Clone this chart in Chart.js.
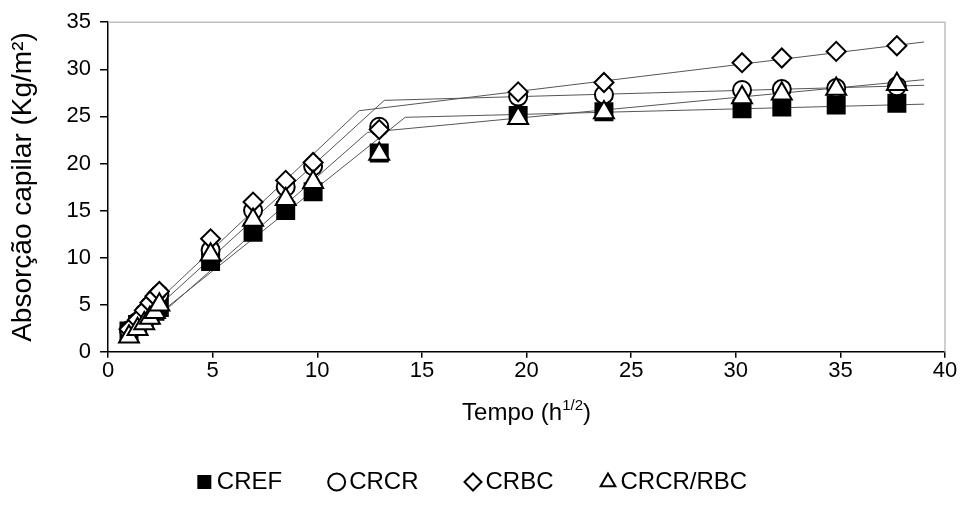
<!DOCTYPE html>
<html>
<head>
<meta charset="utf-8">
<script src="https://cdn.jsdelivr.net/npm/chart.js@4.4.0/dist/chart.umd.min.js"></script>
<style>
html, body { margin: 0; padding: 0; background: #fff; }
</style>
</head>
<body>
<canvas id="myChart" width="963" height="509"></canvas>
<script>
// tempo (h^1/2) and absorcao capilar (Kg/m2)
var tempo = [1, 1.41, 1.73, 2, 2.24, 2.45, 4.9, 6.93, 8.49, 9.8, 12.96, 19.6, 23.7, 30.3, 32.2, 34.8, 37.7];
var cref = [2.2, 2.9, 3.4, 3.9, 4.3, 4.7, 9.6, 12.7, 15.0, 17.0, 21.1, 25.1, 25.5, 25.8, 26.0, 26.2, 26.4];
var crcr = [2.3, 3.2, 4.1, 4.9, 5.6, 6.1, 10.8, 15.0, 17.5, 19.7, 23.9, 27.1, 27.3, 27.8, 27.9, 28.0, 28.2];
var crbc = [2.4, 3.4, 4.4, 5.2, 5.9, 6.4, 12.0, 15.9, 18.2, 20.1, 23.6, 27.6, 28.6, 30.7, 31.2, 31.9, 32.5];
var crcrRbc = [1.6, 2.4, 3.0, 3.6, 4.2, 5.0, 10.3, 14.0, 16.2, 18.0, 21.0, 24.8, 25.4, 27.0, 27.4, 27.9, 28.4];

// trend lines: [x, y] of start, break and end
var trendCref = [[1, 1.5], [14.2, 24.9], [39, 26.3]];
var trendCrcr = [[1, 2.0], [13.2, 26.7], [39, 28.3]];
var trendCrbc = [[1, 2.5], [12.0, 25.6], [39, 32.9]];
var trendCrcrRbc = [[1, 1.0], [12.4, 23.3], [39, 28.9]];

var xTicks = [0, 5, 10, 15, 20, 25, 30, 35, 40];
var yTicks = [0, 5, 10, 15, 20, 25, 30, 35];

function pts(ys) {
    var out = [];
    for (var i = 0; i < tempo.length; i++) {
        out.push({x: tempo[i], y: ys[i]});
    }
    return out;
}

function seg(t, a, b) {
    return [{x: t[a][0], y: t[a][1]}, {x: t[b][0], y: t[b][1]}];
}

function markers(label, ys, style, radius, fill, order) {
    return {
        label: label,
        data: pts(ys),
        showLine: false,
        pointStyle: style,
        pointRadius: radius,
        pointBackgroundColor: fill,
        pointBorderColor: "#000",
        pointBorderWidth: 2,
        backgroundColor: fill,
        borderColor: "#000",
        borderWidth: 2,
        order: order
    };
}

function trend(data) {
    return {
        label: "trend",
        data: data,
        showLine: true,
        pointRadius: 0,
        borderColor: "#555",
        borderWidth: 1,
        fill: false,
        order: 10
    };
}

var datasets = [
    markers("CREF", cref, "rect", 12, "#000", 4),
    markers("CRCR", crcr, "circle", 9, "#fff", 3),
    markers("CRBC", crbc, "rectRot", 9.5, "#fff", 2),
    markers("CRCR/RBC", crcrRbc, "triangle", 11.5, "#fff", 1),
    trend(seg(trendCref, 0, 1)), trend(seg(trendCref, 1, 2)),
    trend(seg(trendCrcr, 0, 1)), trend(seg(trendCrcr, 1, 2)),
    trend(seg(trendCrbc, 0, 1)), trend(seg(trendCrbc, 1, 2)),
    trend(seg(trendCrcrRbc, 0, 1)), trend(seg(trendCrcrRbc, 1, 2))
];

var FONT = "'Liberation Sans', Arial, sans-serif";
var TICK_SIZE = 22;
var TITLE_SIZE = 24;
var X_TITLE_PAD_BOTTOM = -12;
Chart.defaults.font.family = FONT;
Chart.defaults.font.size = TITLE_SIZE;
Chart.defaults.color = "#000";

// light grey frame on top and right of the plot
var frame = {
    id: "frame",
    beforeDatasetsDraw: function (chart) {
        var a = chart.chartArea, ctx = chart.ctx;
        ctx.save();
        ctx.strokeStyle = "#c0c0c0";
        ctx.lineWidth = 1.5;
        ctx.beginPath();
        ctx.moveTo(a.left, a.top);
        ctx.lineTo(a.right, a.top);
        ctx.lineTo(a.right, a.bottom);
        ctx.stroke();
        ctx.restore();
    }
};

// x title with superscript 1/2
var xTitle = {
    id: "xTitle",
    afterDraw: function (chart) {
        var xs = chart.scales.x, ctx = chart.ctx;
        var y = xs.bottom - TITLE_SIZE * 1.2 / 2 - X_TITLE_PAD_BOTTOM;
        var cx = (xs.left + xs.right) / 2;
        var big = TITLE_SIZE + "px " + FONT, small = "15px " + FONT;
        ctx.save();
        ctx.fillStyle = "#000";
        ctx.textBaseline = "middle";
        ctx.textAlign = "left";
        ctx.font = big;
        var w1 = ctx.measureText("Tempo (h").width;
        var w3 = ctx.measureText(")").width;
        ctx.font = small;
        var w2 = ctx.measureText("1/2").width;
        var x0 = cx - (w1 + w2 + w3) / 2;
        ctx.font = big;
        ctx.fillText("Tempo (h", x0, y);
        ctx.fillText(")", x0 + w1 + w2, y);
        ctx.font = small;
        ctx.fillText("1/2", x0 + w1, y - 8);
        ctx.restore();
    }
};

var ctx = document.getElementById("myChart").getContext("2d");
var myChart = new Chart(ctx, {
    type: "scatter",
    data: {datasets: datasets},
    options: {
        responsive: false,
        animation: false,
        devicePixelRatio: 1,
        layout: {padding: {left: 6, right: 18, top: 14, bottom: 5}},
        scales: {
            x: {
                type: "linear",
                min: xTicks[0],
                max: xTicks[xTicks.length - 1],
                afterBuildTicks: function (s) { s.ticks = xTicks.map(function (v) { return {value: v}; }); },
                ticks: {padding: 0, font: {size: TICK_SIZE}},
                grid: {display: true, drawOnChartArea: false, drawTicks: true, tickLength: 6, color: "#000", lineWidth: 1.5},
                border: {display: true, color: "#000", width: 1.5},
                title: {display: true, text: "Tempo (h1/2)", color: "rgba(0,0,0,0)", padding: {top: 15, bottom: X_TITLE_PAD_BOTTOM}}
            },
            y: {
                min: yTicks[0],
                max: yTicks[yTicks.length - 1],
                afterBuildTicks: function (s) { s.ticks = yTicks.map(function (v) { return {value: v}; }); },
                ticks: {padding: 9, font: {size: TICK_SIZE}},
                grid: {display: true, drawOnChartArea: false, drawTicks: true, tickLength: 8, color: "#000", lineWidth: 1.5},
                border: {display: true, color: "#000", width: 1.5},
                title: {display: true, text: "Absorção capilar (Kg/m²)", font: {size: 28}, padding: {top: 0, bottom: 18}}
            }
        },
        plugins: {
            tooltip: {enabled: false},
            legend: {
                position: "bottom",
                labels: {
                    usePointStyle: true,
                    boxWidth: 1,
                    boxHeight: 12,
                    padding: 54,
                    font: {size: TITLE_SIZE},
                    filter: function (item) { return item.datasetIndex < 4; },
                    sort: function (a, b) { return a.datasetIndex - b.datasetIndex; }
                }
            }
        }
    },
    plugins: [frame, xTitle]
});
</script>
</body>
</html>
